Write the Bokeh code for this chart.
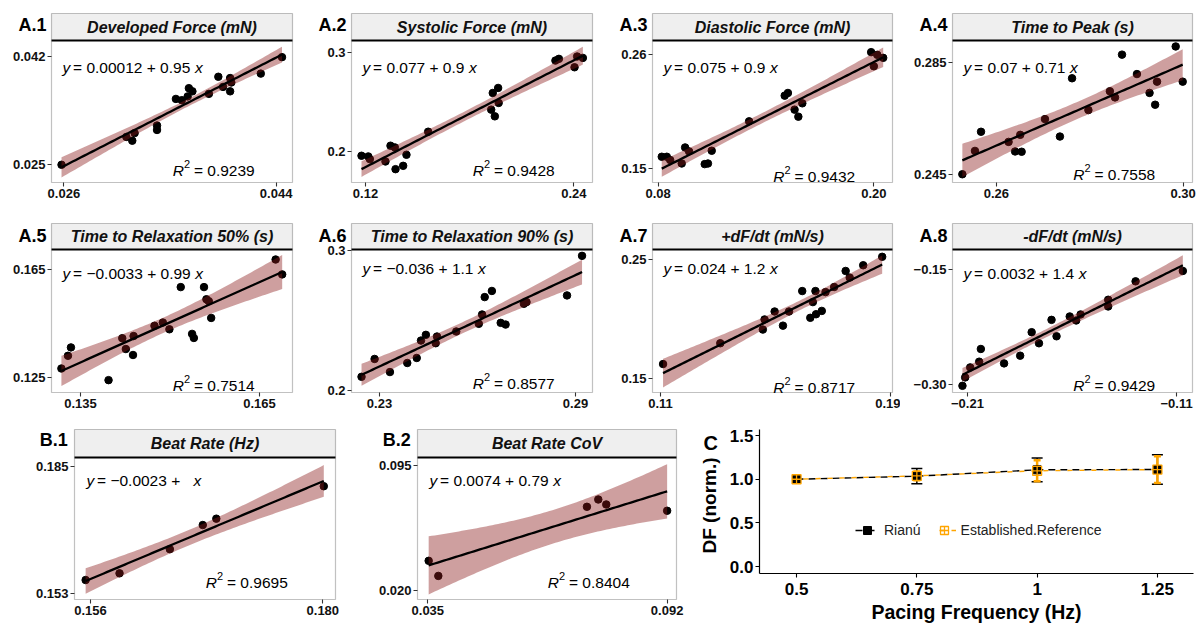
import numpy as np
from bokeh.plotting import figure
from bokeh.models import (Range1d, FixedTicker, Label, BoxAnnotation,
                          Whisker, TeeHead, ColumnDataSource, Legend, LegendItem,
                          NumeralTickFormatter)
from bokeh.layouts import row, column
from bokeh.embed import file_html
from bokeh.resources import INLINE

FONT = "Liberation Sans"

# ---------------- data ----------------
a1_x = [0.0258, 0.0313, 0.0318, 0.0320, 0.0339, 0.0339, 0.0355, 0.0360, 0.0366, 0.0369,
        0.0365, 0.0383, 0.0391, 0.0395, 0.0401, 0.0402, 0.0401, 0.0427, 0.0445]
a1_y = [0.0249, 0.0293, 0.0287, 0.0299, 0.0311, 0.0304, 0.0353, 0.0351, 0.0370, 0.0365,
        0.0357, 0.0361, 0.0388, 0.0372, 0.0386, 0.0379, 0.0365, 0.0393, 0.0419]

a2_x = [0.1177, 0.1216, 0.1225, 0.1315, 0.1344, 0.1369, 0.1373, 0.1417, 0.1436, 0.1561,
        0.1924, 0.1945, 0.1933, 0.1964, 0.1967, 0.2294, 0.2314, 0.2404, 0.2419, 0.2452]
a2_y = [0.1956, 0.1949, 0.1922, 0.1898, 0.2058, 0.2041, 0.1820, 0.1854, 0.1966, 0.2200,
        0.2424, 0.2356, 0.2593, 0.2644, 0.2492, 0.2922, 0.2939, 0.2854, 0.2963, 0.2949]

a3_x = [0.0820, 0.0848, 0.0867, 0.0931, 0.0950, 0.0972, 0.1059, 0.1077, 0.1098, 0.1306,
        0.1504, 0.1522, 0.1559, 0.1580, 0.1602, 0.1985, 0.2000, 0.2019, 0.2052]
a3_y = [0.1613, 0.1613, 0.1581, 0.1548, 0.1703, 0.1665, 0.1542, 0.1548, 0.1671, 0.1955,
        0.2203, 0.2229, 0.2068, 0.2000, 0.2129, 0.2623, 0.2487, 0.2597, 0.2568]

a4_x = [0.2527, 0.2554, 0.2567, 0.2626, 0.2640, 0.2651, 0.2654, 0.2704, 0.2736, 0.2762,
        0.2797, 0.2843, 0.2854, 0.2869, 0.2901, 0.2928, 0.2940, 0.2944, 0.2984, 0.2999]
a4_y = [0.2452, 0.2535, 0.2603, 0.2567, 0.2533, 0.2592, 0.2532, 0.2648, 0.2586, 0.2793,
        0.2680, 0.2747, 0.2725, 0.2877, 0.2808, 0.2741, 0.2699, 0.2781, 0.2906, 0.2781]

a5_x = [0.1318, 0.1329, 0.1334, 0.1397, 0.1420, 0.1426, 0.1438, 0.1439, 0.1474, 0.1488,
        0.1499, 0.1518, 0.1537, 0.1540, 0.1557, 0.1561, 0.1565, 0.1569, 0.1677, 0.1688]
a5_y = [0.1283, 0.1330, 0.1361, 0.1240, 0.1395, 0.1355, 0.1333, 0.1403, 0.1441, 0.1453,
        0.1428, 0.1584, 0.1411, 0.1396, 0.1584, 0.1539, 0.1532, 0.1470, 0.1686, 0.1631]

a6_x = [0.2245, 0.2285, 0.2332, 0.2385, 0.2414, 0.2427, 0.2442, 0.2472, 0.2476, 0.2535,
        0.2604, 0.2614, 0.2622, 0.2644, 0.2671, 0.2686, 0.2742, 0.2750, 0.2874, 0.2920]
a6_y = [0.2096, 0.2224, 0.2130, 0.2195, 0.2231, 0.2356, 0.2397, 0.2337, 0.2385, 0.2421,
        0.2476, 0.2543, 0.2668, 0.2712, 0.2483, 0.2471, 0.2620, 0.2632, 0.2680, 0.2964]

a7_x = [0.1109, 0.1308, 0.1456, 0.1462, 0.1497, 0.1526, 0.1547, 0.1593, 0.1621, 0.1630,
        0.1639, 0.1641, 0.1661, 0.1674, 0.1704, 0.1744, 0.1758, 0.1805, 0.1871]
a7_y = [0.1621, 0.1796, 0.1911, 0.1996, 0.2063, 0.1944, 0.2063, 0.2235, 0.2010, 0.2142,
        0.2235, 0.2040, 0.2068, 0.2226, 0.2269, 0.2404, 0.2348, 0.2452, 0.2523]

a8_x = [-0.2124, -0.2111, -0.2087, -0.2044, -0.2036, -0.1925, -0.1848, -0.1793, -0.1758,
        -0.1698, -0.1674, -0.1611, -0.1580, -0.1559, -0.1427, -0.1427, -0.1296, -0.1070]
a8_y = [-0.3013, -0.2904, -0.2774, -0.2700, -0.2535, -0.2722, -0.2622, -0.2317, -0.2461,
        -0.2157, -0.2370, -0.2113, -0.2165, -0.2087, -0.1896, -0.1983, -0.1657, -0.1522]

b1_x = [0.1555, 0.1590, 0.1642, 0.1676, 0.1690, 0.1801]
b1_y = [0.1564, 0.1581, 0.1642, 0.1703, 0.1719, 0.1801]

b2_x = [0.0352, 0.0375, 0.0729, 0.0756, 0.0775, 0.0920]
b2_y = [0.0377, 0.0286, 0.0703, 0.0747, 0.0717, 0.0679]

panel_tags = ["A.1", "A.2", "A.3", "A.4", "A.5", "A.6", "A.7", "A.8", "B.1", "B.2"]
panel_titles = ["Developed Force (mN)", "Systolic Force (mN)", "Diastolic Force (mN)",
                "Time to Peak (s)", "Time to Relaxation 50% (s)", "Time to Relaxation 90% (s)",
                "+dF/dt (mN/s)", "-dF/dt (mN/s)", "Beat Rate (Hz)", "Beat Rate CoV"]
eq_intercepts = ["0.00012", "0.077", "0.075", "0.07", "\u22120.0033", "\u22120.036",
                 "0.024", "0.0032", "\u22120.0023", "0.0074"]
eq_slopes = ["0.95", "0.9", "0.9", "0.71", "0.99", "1.1", "1.2", "1.4", "", "0.79"]
r2_values = ["0.9239", "0.9428", "0.9432", "0.7558", "0.7514", "0.8577", "0.8717",
             "0.9429", "0.9695", "0.8404"]

x_ticks = [[0.026, 0.044], [0.12, 0.24], [0.08, 0.20], [0.26, 0.30], [0.135, 0.165],
           [0.23, 0.29], [0.11, 0.19], [-0.21, -0.11], [0.156, 0.180], [0.035, 0.092]]
x_tick_labels = [["0.026", "0.044"], ["0.12", "0.24"], ["0.08", "0.20"], ["0.26", "0.30"],
                 ["0.135", "0.165"], ["0.23", "0.29"], ["0.11", "0.19"],
                 ["\u22120.21", "\u22120.11"], ["0.156", "0.180"], ["0.035", "0.092"]]
y_ticks = [[0.025, 0.042], [0.2, 0.3], [0.15, 0.26], [0.245, 0.285], [0.125, 0.165],
           [0.2, 0.3], [0.15, 0.25], [-0.30, -0.15], [0.153, 0.185], [0.020, 0.095]]
y_tick_labels = [["0.025", "0.042"], ["0.2", "0.3"], ["0.15", "0.26"], ["0.245", "0.285"],
                 ["0.125", "0.165"], ["0.2", "0.3"], ["0.15", "0.25"],
                 ["\u22120.30", "\u22120.15"], ["0.153", "0.185"], ["0.020", "0.095"]]

# panel C
freq = [0.5, 0.75, 1.0, 1.25]
freq_labels = ["0.5", "0.75", "1", "1.25"]
rianu_mean = [1.0, 1.035, 1.108, 1.112]
rianu_sd = [0.0, 0.088, 0.136, 0.170]
ref_mean = [1.0, 1.039, 1.097, 1.111]
ref_sd = [0.0, 0.050, 0.120, 0.153]
c_y_ticks = [0.0, 0.5, 1.0, 1.5]

X_DATA = [a1_x, a2_x, a3_x, a4_x, a5_x, a6_x, a7_x, a8_x, b1_x, b2_x]
Y_DATA = [a1_y, a2_y, a3_y, a4_y, a5_y, a6_y, a7_y, a8_y, b1_y, b2_y]

# ---------------- layout / style constants ----------------
X_RANGES = [(0.02495, 0.04539), (0.11194, 0.25075), (0.07685, 0.21038), (0.25059, 0.30200),
            (0.13014, 0.17053), (0.22143, 0.29520), (0.10723, 0.19069), (-0.21716, -0.10238),
            (0.15435, 0.18131), (0.03254, 0.09423)]
Y_RANGES = [(0.02210, 0.04453), (0.16847, 0.31254), (0.13645, 0.27355), (0.24227, 0.29272),
            (0.11943, 0.17230), (0.19832, 0.30096), (0.13817, 0.25845), (-0.31000, -0.12435),
            (0.15148, 0.18736), (0.01437, 0.10003)]
# (figure W, H, panel margin left, right, top, bottom, strip height)
GEOM = [(300, 205, 51, 8, 13, 23, 27), (300, 205, 51, 8, 13, 23, 27),
        (300, 205, 52, 8, 13, 23, 27), (304, 205, 52, 12, 13, 23, 27),
        (300, 213, 51, 8, 18, 26, 26), (300, 213, 51, 8, 18, 26, 26),
        (300, 213, 52, 8, 18, 26, 26), (304, 213, 52, 12, 18, 26, 26),
        (350, 206, 74, 15, 11, 25, 28), (340, 206, 67, 14, 11, 25, 28)]
EQ_OFF = [26.7, 26.7, 26.7, 26.7, 24, 19, 19, 24, 22.7, 22.7]
R2_OFF = [11.7, 12.3, 6, 7.7, 7.3, 8.7, 4.7, 7.3, 17.3, 17.3]
EQ_LEFT = [11, 11, 11, 11, 11, 11, 11, 11, 12, 12]
TAG_POS = [(-33, 11.7)] * 4 + [(-33, 12.7)] * 4 + [(-34.7, 10.7)] * 2

T975 = {1: 12.706, 2: 4.303, 3: 3.182, 4: 2.776, 5: 2.571, 6: 2.447, 7: 2.365, 8: 2.306,
        9: 2.262, 10: 2.228, 11: 2.201, 12: 2.179, 13: 2.160, 14: 2.145, 15: 2.131,
        16: 2.120, 17: 2.110, 18: 2.101, 19: 2.093, 20: 2.086, 21: 2.080, 22: 2.074,
        23: 2.069, 24: 2.064, 25: 2.060}

CW = {".": 0.278, " ": 0.278, "=": 0.584, "+": 0.584, "\u2212": 0.584, "x": 0.5, "y": 0.5,
      "R": 0.722}


def text_w(s, size):
    return sum(CW.get(c, 0.556) for c in s) * size


EQ_SIZE = 15.5


def make_fig(W, H, bl, br, bt, bb, x0, x1, y0, ytop):
    """Figure whose frame is the whole canvas; the panel (x0..x1, y0..ytop)
    sits at the given pixel margins inside it."""
    kx = (x1 - x0) / (W - bl - br)
    ky = (ytop - y0) / (H - bt - bb)

    def X(px):
        return x0 + (px - bl) * kx

    def Y(py):
        return y0 + (H - bb - py) * ky

    p = figure(width=W, height=H, x_range=Range1d(X(0), X(W)), y_range=Range1d(Y(H), Y(0)),
               output_backend="svg", toolbar_location=None,
               min_border_left=0, min_border_right=0, min_border_top=0, min_border_bottom=0)
    p.xgrid.visible = False
    p.ygrid.visible = False
    p.outline_line_color = None
    p.background_fill_color = "white"
    p.border_fill_color = "white"
    p.xaxis.fixed_location = y0
    p.yaxis.fixed_location = x0
    return p, X, Y


def style_axes(p, size="13px"):
    for ax in (p.xaxis[0], p.yaxis[0]):
        ax.axis_line_color = None
        ax.major_tick_line_color = "#333333"
        ax.major_tick_line_width = 1.1
        ax.major_tick_in = 0
        ax.major_tick_out = 4
        ax.minor_tick_line_color = None
        ax.major_label_text_font = FONT
        ax.major_label_text_font_style = "bold"
        ax.major_label_text_font_size = size
        ax.major_label_text_color = "#111111"
        ax.major_label_standoff = 2


def add_text(p, x, y, text, size, style="normal", align="left", baseline="alphabetic",
             angle=0.0, color="black"):
    p.add_layout(Label(x=x, y=y, text=text, text_align=align, text_baseline=baseline,
                       text_font=FONT, text_font_style=style, text_font_size=size,
                       text_color=color, angle=angle))


def reg_panel(i):
    W, H, bl, br, bt, bb, strip = GEOM[i]
    fw = W - bl - br
    P = H - bt - bb - strip
    x0, x1 = X_RANGES[i]
    y0, y1 = Y_RANGES[i]
    ytop = y1 + (y1 - y0) * strip / P
    p, X, Y = make_fig(W, H, bl, br, bt, bb, x0, x1, y0, ytop)

    p.xaxis.ticker = FixedTicker(ticks=x_ticks[i])
    p.xaxis.major_label_overrides = dict(zip(x_ticks[i], x_tick_labels[i]))
    p.yaxis.ticker = FixedTicker(ticks=y_ticks[i])
    p.yaxis.major_label_overrides = dict(zip(y_ticks[i], y_tick_labels[i]))
    style_axes(p)

    # strip background
    p.add_layout(BoxAnnotation(left=x0, right=x1, bottom=y1, top=ytop, fill_color="#efefef",
                               fill_alpha=1.0, line_color=None, level="underlay"))

    xs = np.array(X_DATA[i], dtype=float)
    ys = np.array(Y_DATA[i], dtype=float)
    n = len(xs)
    b1, b0 = np.polyfit(xs, ys, 1)
    xg = np.linspace(xs.min(), xs.max(), 80)
    yg = b0 + b1 * xg
    resid = ys - (b0 + b1 * xs)
    s = np.sqrt(np.sum(resid ** 2) / (n - 2))
    sxx = np.sum((xs - xs.mean()) ** 2)
    se = s * np.sqrt(1.0 / n + (xg - xs.mean()) ** 2 / sxx)
    t = T975[n - 2]

    p.scatter(xs, ys, size=7.5, color="black")
    p.varea(x=xg, y1=yg - t * se, y2=yg + t * se, fill_color="#8b1a1a", fill_alpha=0.42)
    p.line(xg, yg, line_color="black", line_width=2.3)

    # separator under strip and panel border
    p.segment(x0=[x0], y0=[y1], x1=[x1], y1=[y1], line_color="black", line_width=2)
    p.add_layout(BoxAnnotation(left=x0, right=x1, bottom=y0, top=ytop, fill_alpha=0.0,
                               line_color="#333333", line_width=1.2))

    add_text(p, (x0 + x1) / 2, (y1 + ytop) / 2, panel_titles[i], "16px", "bold italic",
             align="center", baseline="middle", color="#111111")

    tx, ty = TAG_POS[i]
    add_text(p, X(bl + tx), Y(bt + ty), panel_tags[i], "18px", "bold")

    # equation
    fs = "%gpx" % EQ_SIZE
    ex = bl + EQ_LEFT[i]
    ey = bt + strip + EQ_OFF[i]
    mid = "= %s + %s" % (eq_intercepts[i], eq_slopes[i])
    mid_full = mid if eq_slopes[i] else mid + " "
    mid_x = ex + 0.68 * EQ_SIZE
    x_x = mid_x + text_w(mid_full, EQ_SIZE) + 0.3 * EQ_SIZE
    add_text(p, X(ex), Y(ey), "y", fs, "italic")
    add_text(p, X(mid_x), Y(ey), mid.strip(), fs)
    add_text(p, X(x_x), Y(ey), "x", fs, "italic")

    # R^2
    rx = bl + 0.503 * fw
    ry = H - bb - R2_OFF[i]
    add_text(p, X(rx), Y(ry), "R", fs, "italic")
    sup_x = rx + text_w("R", EQ_SIZE)
    add_text(p, X(sup_x), Y(ry - 6.5), "2", "11px")
    add_text(p, X(sup_x + 0.556 * 11 + 3.9), Y(ry), "= " + r2_values[i], fs)
    return p


def c_panel():
    W, H, bl, br, bt, bb = 514, 206, 69, 11, 11, 51
    fw = W - bl - br
    x0, x1 = 0.423, 1.325
    y0, y1 = -0.08, 1.57
    p, X, Y = make_fig(W, H, bl, br, bt, bb, x0, x1, y0, y1)

    p.xaxis.ticker = FixedTicker(ticks=freq)
    p.xaxis.major_label_overrides = dict(zip(freq, freq_labels))
    p.yaxis.ticker = FixedTicker(ticks=c_y_ticks)
    p.yaxis.formatter = NumeralTickFormatter(format="0.0")
    style_axes(p, size="17px")
    for ax in (p.xaxis[0], p.yaxis[0]):
        ax.axis_line_color = "black"
        ax.axis_line_width = 1.2
        ax.major_tick_line_color = "black"
        ax.major_label_text_color = "black"
    p.xaxis.bounds = (x0, x1)
    p.yaxis.bounds = (y0, y1)
    p.xaxis.major_label_standoff = 5

    l1 = p.line(freq, rianu_mean, line_color="black", line_width=1.4, line_dash="7 5")
    l2 = p.line(freq, ref_mean, line_color="#FFA500", line_width=1.4, line_dash="5 7",
                line_dash_offset=5)

    idx = [k for k in range(len(freq)) if rianu_sd[k] > 0]
    src_r = ColumnDataSource(dict(x=[freq[k] for k in idx],
                                  up=[rianu_mean[k] + rianu_sd[k] for k in idx],
                                  lo=[rianu_mean[k] - rianu_sd[k] for k in idx]))
    idx2 = [k for k in range(len(freq)) if ref_sd[k] > 0]
    src_e = ColumnDataSource(dict(x=[freq[k] for k in idx2],
                                  up=[ref_mean[k] + ref_sd[k] for k in idx2],
                                  lo=[ref_mean[k] - ref_sd[k] for k in idx2]))
    p.add_layout(Whisker(source=src_r, base="x", upper="up", lower="lo", dimension="height",
                         line_color="black", line_width=1.5,
                         upper_head=TeeHead(size=11, line_color="black", line_width=1.5),
                         lower_head=TeeHead(size=11, line_color="black", line_width=1.5)))
    p.add_layout(Whisker(source=src_e, base="x", upper="up", lower="lo", dimension="height",
                         line_color="#FFA500", line_width=2.5,
                         upper_head=TeeHead(size=7, line_color="#FFA500", line_width=2.5),
                         lower_head=TeeHead(size=7, line_color="#FFA500", line_width=2.5)))

    s1 = p.scatter(freq, rianu_mean, marker="square", size=8, color="black")
    s2 = p.scatter(freq, ref_mean, marker="square_cross", size=9, fill_color=None,
                   line_color="#FFA500", line_width=1.3)

    legend = Legend(items=[LegendItem(label="Rianú", renderers=[l1, s1]),
                           LegendItem(label="Established.Reference", renderers=[l2, s2])],
                    orientation="horizontal", location=(165, 84), border_line_color=None,
                    background_fill_alpha=0.0, label_text_font=FONT,
                    label_text_font_size="14px", label_text_color="#222222",
                    glyph_width=24, glyph_height=20, label_standoff=5, spacing=11,
                    padding=0, margin=0)
    p.add_layout(legend)

    add_text(p, X(bl + fw / 2), Y(193), "Pacing Frequency (Hz)", "19.5px", "bold",
             align="center")
    add_text(p, X(19), Y(87), "DF (norm.)", "19px", "bold", align="center",
             angle=np.pi / 2)
    add_text(p, X(13), Y(24), "C", "20px", "bold")
    return p


figs = [reg_panel(i) for i in range(10)]
pc = c_panel()
layout = column(row(*figs[0:4]), row(*figs[4:8]), row(figs[8], figs[9], pc))

open("out.html", "w").write(file_html(layout, INLINE))
